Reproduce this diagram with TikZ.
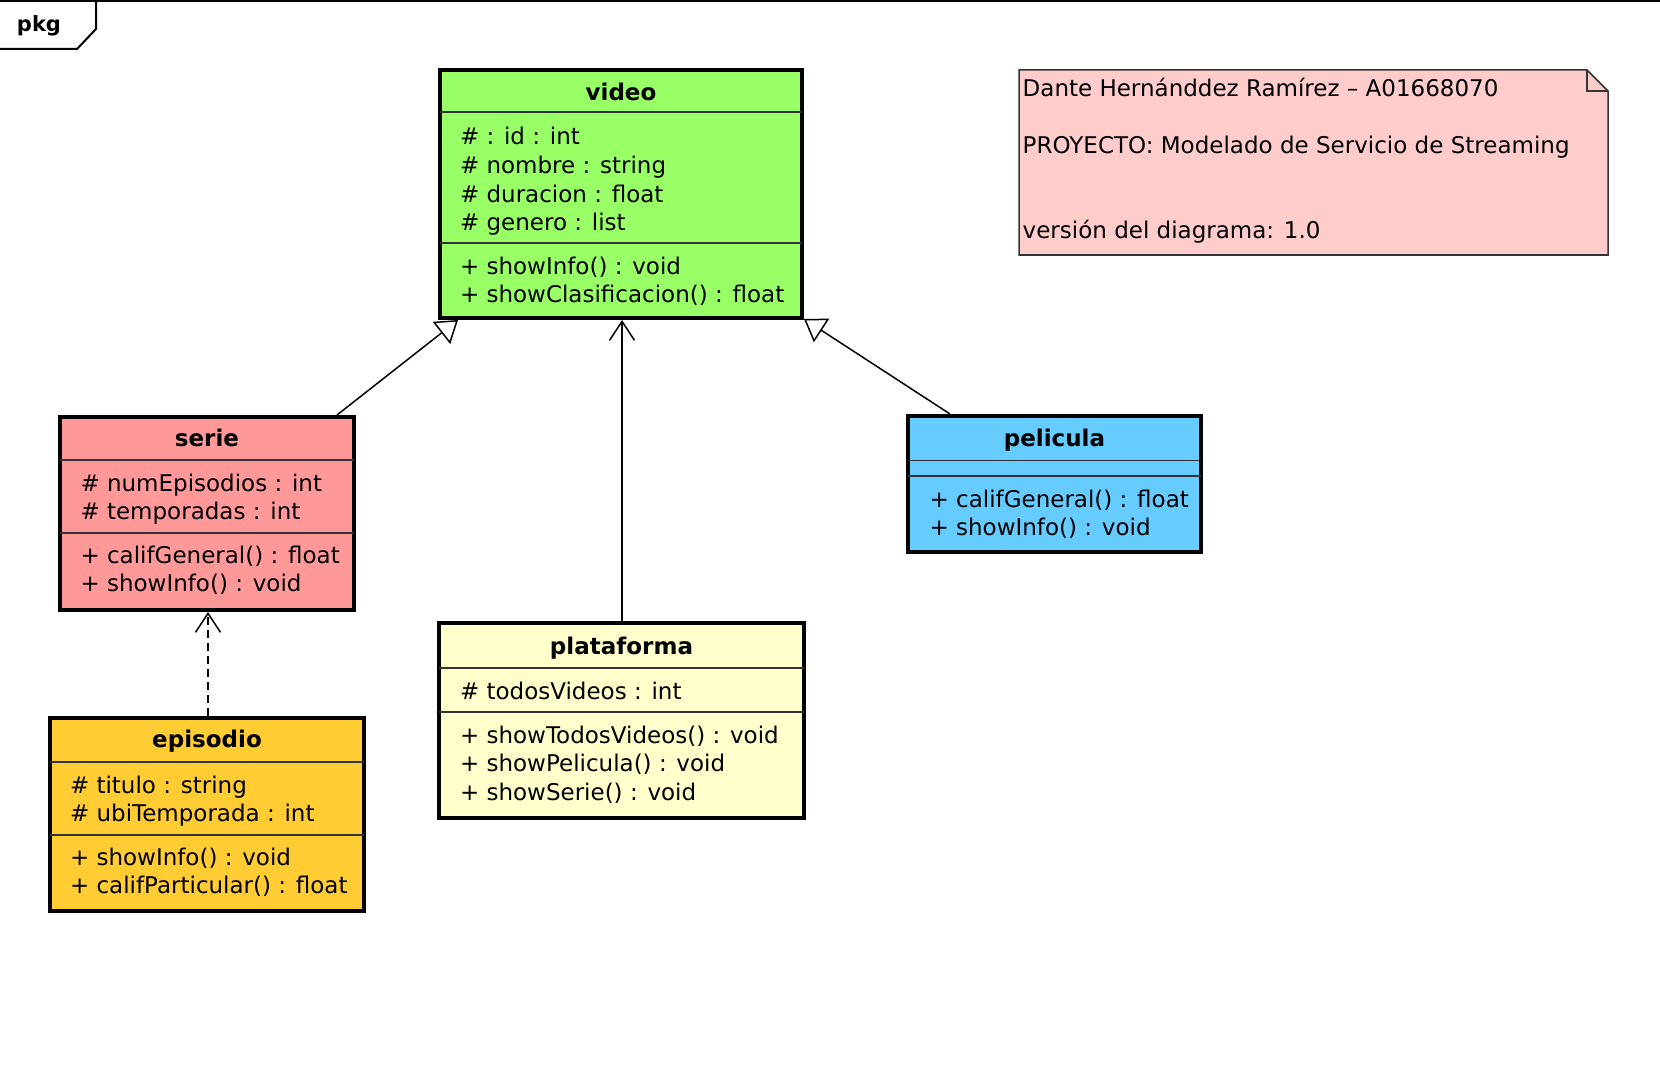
\documentclass[tikz,border=0pt]{standalone}
\usepackage{fontspec}
\setmainfont{DejaVu Sans}
\usetikzlibrary{arrows.meta}
\definecolor{vgreen}{HTML}{99FF66}
\definecolor{sred}{HTML}{FF9999}
\definecolor{pblue}{HTML}{66CCFF}
\definecolor{pyellow}{HTML}{FFFFCC}
\definecolor{eorange}{HTML}{FFCC33}
\definecolor{npink}{HTML}{FFCCCC}
\definecolor{sepgray}{HTML}{333333}
\tikzset{
  cls/.style={draw=black, line width=4pt, rectangle, inner sep=0pt, outer sep=0pt, anchor=north west},
  sepline/.style={draw=sepgray, line width=1.5pt},
  txt/.style={anchor=base west, inner sep=0pt, outer sep=0pt, font=\fontsize{23pt}{28pt}\selectfont},
  ttl/.style={anchor=base, inner sep=0pt, outer sep=0pt, font=\fontsize{23pt}{28pt}\selectfont\bfseries},
  gen/.style={line width=1.5pt, -{Triangle[open, length=21pt, width=28pt, line width=1.5pt, fill=white]}},
  nav/.style={line width=1.5pt, -{Straight Barb[length=19pt, width=25pt, line width=1.5pt]}},
  dep/.style={line width=1.5pt, dash pattern=on 8pt off 5pt, -{Straight Barb[length=19pt, width=25pt, line width=1.5pt, sep=0pt]}},
}
\begin{document}
\begin{tikzpicture}[x=1pt, y=-1pt]
\useasboundingbox (0,0) rectangle (1660,1078);
% frame
\coordinate (ftl) at (0,1);
\coordinate (ftr) at (1660,1);
\draw[line width=2pt] (ftl) -- (ftr);
\coordinate (tab1) at (96,0);
\coordinate (tab2) at (96,29);
\coordinate (tab3) at (77,49);
\coordinate (tab4) at (0,49);
\draw[line width=2pt] (tab1) -- (tab2) -- (tab3) -- (tab4);
\node[ttl, anchor=center, font=\fontsize{21pt}{26pt}\selectfont\bfseries] (pkg) at (39,26) {pkg};

% video
\node[cls, fill=vgreen, minimum width=362pt, minimum height=248pt] (video) at (440,70) {};
\draw[sepline] ([yshift=-42pt]video.north west) -- ([yshift=-42pt]video.north east);
\draw[sepline] ([yshift=-173pt]video.north west) -- ([yshift=-173pt]video.north east);
\node[ttl] (vt) at (621,101) {video};
\node[txt] (va1) at (460,145) {\# : id : int};
\node[txt] (va2) at (460,173.6) {\# nombre : string};
\node[txt] (va3) at (460,202.1) {\# duracion : float};
\node[txt] (va4) at (460,230.7) {\# genero : list};
\node[txt] (vm1) at (460,274.1) {+ showInfo() : void};
\node[txt] (vm2) at (460,302.7) {+ showClasificacion() : float};

% serie
\node[cls, fill=sred, minimum width=294pt, minimum height=193pt] (serie) at (60,417) {};
\draw[sepline] ([yshift=-43pt]serie.north west) -- ([yshift=-43pt]serie.north east);
\draw[sepline] ([yshift=-116pt]serie.north west) -- ([yshift=-116pt]serie.north east);
\node[ttl] (st) at (207,446) {serie};
\node[txt] (sa1) at (80.5,491.2) {\# numEpisodios : int};
\node[txt] (sa2) at (80.5,519.8) {\# temporadas : int};
\node[txt] (sm1) at (80.5,563.2) {+ califGeneral() : float};
\node[txt] (sm2) at (80.5,591.7) {+ showInfo() : void};

% episodio
\node[cls, fill=eorange, minimum width=314pt, minimum height=193pt] (episodio) at (50,718) {};
\draw[sepline] ([yshift=-44pt]episodio.north west) -- ([yshift=-44pt]episodio.north east);
\draw[sepline] ([yshift=-117pt]episodio.north west) -- ([yshift=-117pt]episodio.north east);
\node[ttl] (et) at (207,747.4) {episodio};
\node[txt] (ea1) at (70,793) {\# titulo : string};
\node[txt] (ea2) at (70,821.4) {\# ubiTemporada : int};
\node[txt] (em1) at (70,865) {+ showInfo() : void};
\node[txt] (em2) at (70,893.5) {+ califParticular() : float};

% pelicula
\node[cls, fill=pblue, minimum width=293pt, minimum height=136pt] (pelicula) at (908,416) {};
\draw[sepline] ([yshift=-44.5pt]pelicula.north west) -- ([yshift=-44.5pt]pelicula.north east);
\draw[sepline] ([yshift=-60pt]pelicula.north west) -- ([yshift=-60pt]pelicula.north east);
\node[ttl] (pt) at (1054.5,446.7) {pelicula};
\node[txt] (pm1) at (929.6,507) {+ califGeneral() : float};
\node[txt] (pm2) at (929.6,535.6) {+ showInfo() : void};

% plataforma
\node[cls, fill=pyellow, minimum width=365pt, minimum height=195pt] (plataforma) at (439,623) {};
\draw[sepline] ([yshift=-45pt]plataforma.north west) -- ([yshift=-45pt]plataforma.north east);
\draw[sepline] ([yshift=-89pt]plataforma.north west) -- ([yshift=-89pt]plataforma.north east);
\node[ttl] (plt) at (621.5,654.2) {plataforma};
\node[txt] (pla1) at (460,699.7) {\# todosVideos : int};
\node[txt] (plm1) at (460,743.1) {+ showTodosVideos() : void};
\node[txt] (plm2) at (460,771.7) {+ showPelicula() : void};
\node[txt] (plm3) at (460,800.3) {+ showSerie() : void};

% note
\coordinate (n1) at (1019,70);
\coordinate (n2) at (1587,70);
\coordinate (n3) at (1608,91);
\coordinate (n4) at (1608,255);
\coordinate (n5) at (1019,255);
\coordinate (n6) at (1587,91);
\draw[draw=sepgray, line width=1.5pt, fill=npink] (n1) -- (n2) -- (n3) -- (n4) -- (n5) -- cycle;
\draw[draw=sepgray, line width=1.5pt] (n2) -- (n6) -- (n3);
\node[txt] (nt1) at (1022.7,96.3) {Dante Hernánddez Ramírez – A01668070};
\node[txt] (nt2) at (1022.7,153.4) {PROYECTO: Modelado de Servicio de Streaming};
\node[txt] (nt3) at (1022.7,238.1) {versión del diagrama: 1.0};

% connectors
\draw[gen] ([xshift=277pt,yshift=2pt]serie.north west) -- ([xshift=18pt,yshift=-2pt]video.south west);
\draw[gen] ([xshift=42pt,yshift=2pt]pelicula.north west) -- ([xshift=2pt,yshift=-1pt]video.south east);
\draw[nav] ([xshift=183pt,yshift=2pt]plataforma.north west) -- ([xshift=182pt,yshift=-2pt]video.south west);
\draw[dep] ([xshift=158pt,yshift=2pt]episodio.north west) -- ([xshift=148pt,yshift=-2pt]serie.south west);
\end{tikzpicture}
\end{document}
